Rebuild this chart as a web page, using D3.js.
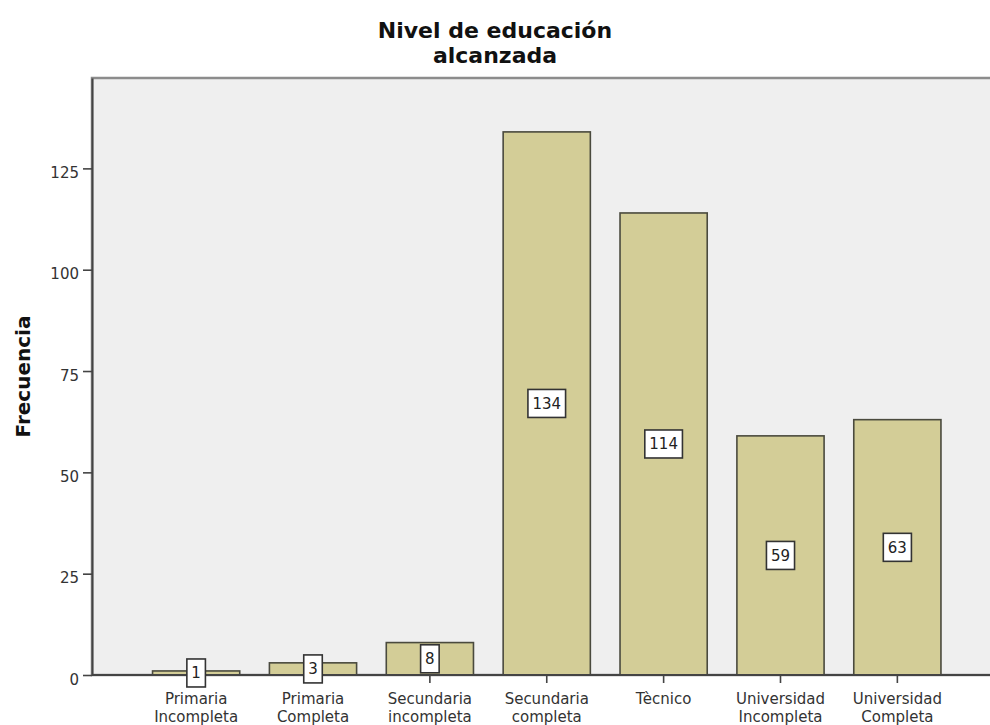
<!DOCTYPE html>
<html>
<head>
<meta charset="utf-8">
<script src="https://cdn.jsdelivr.net/npm/d3@7"></script>
<style>
  body { margin: 0; background: #fff; }
  svg { display: block; }
  text { font-family: "DejaVu Sans", sans-serif; }
</style>
</head>
<body>
<svg id="chart" width="990" height="725"></svg>
<script>
// Chart data
const titleLines = ["Nivel de educación", "alcanzada"];
const yLabel = "Frecuencia";
const categories = [
  "Primaria\nIncompleta",
  "Primaria\nCompleta",
  "Secundaria\nincompleta",
  "Secundaria\ncompleta",
  "Tècnico",
  "Universidad\nIncompleta",
  "Universidad\nCompleta"
];
const frequencies = [1, 3, 8, 134, 114, 59, 63];
const yTicks = [0, 25, 50, 75, 100, 125];

// Layout
const plot = { left: 92, top: 78, right: 992, bottom: 675 };
const svg = d3.select("#chart");

const x = d3.scaleBand()
  .domain(categories)
  .range([137.7, 955.8])
  .paddingInner(0.254)
  .paddingOuter(0.127);

const y = d3.scaleLinear()
  .domain([0, 147.3])
  .range([plot.bottom, plot.top]);

// Plot background and frame
svg.append("rect")
  .attr("x", plot.left).attr("y", plot.top)
  .attr("width", plot.right - plot.left).attr("height", plot.bottom - plot.top)
  .attr("fill", "#efefef")
  .attr("stroke", "#8c8c8c").attr("stroke-width", 2.5);

// Title
svg.append("text")
  .attr("x", 495).attr("text-anchor", "middle")
  .attr("font-size", 22).attr("font-weight", "bold").attr("fill", "#111")
  .selectAll("tspan").data(titleLines).join("tspan")
  .attr("x", 495)
  .attr("y", (d, i) => 38 + i * 25)
  .text(d => d);

// Y-axis label
svg.append("text")
  .attr("transform", `translate(30,${(plot.top + plot.bottom) / 2}) rotate(-90)`)
  .attr("text-anchor", "middle")
  .attr("font-size", 20).attr("font-weight", "bold").attr("fill", "#111")
  .text(yLabel);

// Bars
const data = categories.map((c, i) => ({ cat: c, value: frequencies[i] }));
svg.append("g").selectAll("rect").data(data).join("rect")
  .attr("x", d => x(d.cat))
  .attr("y", d => y(d.value))
  .attr("width", x.bandwidth())
  .attr("height", d => y(0) - y(d.value))
  .attr("fill", "#d3cd97")
  .attr("stroke", "#4a4a3e").attr("stroke-width", 1.6);

// Y axis
const yAxis = svg.append("g")
  .attr("transform", `translate(${plot.left},0)`)
  .call(d3.axisLeft(y).tickValues(yTicks).tickSize(9).tickSizeOuter(0).tickPadding(4));
yAxis.select(".domain").attr("stroke", "#444").attr("stroke-width", 2);
yAxis.selectAll(".tick line").attr("stroke", "#444").attr("stroke-width", 1.6);
yAxis.selectAll(".tick text")
  .attr("font-size", 15).attr("fill", "#333").attr("dy", "0.6em")
  .style("font-family", "\"DejaVu Sans\", sans-serif");

// X axis
const xAxis = svg.append("g")
  .attr("transform", `translate(0,${plot.bottom})`)
  .call(d3.axisBottom(x).tickSize(8).tickSizeOuter(0));
xAxis.select(".domain").remove();
xAxis.selectAll(".tick line").attr("stroke", "#444").attr("stroke-width", 1.6);
xAxis.selectAll(".tick text").each(function (d) {
  const t = d3.select(this).text(null)
    .attr("y", 0).attr("dy", null)
    .attr("font-size", 15).attr("fill", "#333")
    .style("font-family", "\"DejaVu Sans\", sans-serif");
  d.split("\n").forEach((line, i) => {
    t.append("tspan").attr("x", 0).attr("y", 29 + i * 18).text(line);
  });
});
svg.append("line")
  .attr("x1", plot.left).attr("x2", plot.right)
  .attr("y1", plot.bottom).attr("y2", plot.bottom)
  .attr("stroke", "#444").attr("stroke-width", 2);

// Value labels in boxes at mid-height of each bar
const labels = svg.append("g").selectAll("g").data(data).join("g")
  .attr("transform", d => `translate(${x(d.cat) + x.bandwidth() / 2},${(y(d.value) + y(0)) / 2})`);
labels.append("rect").attr("class", "box");
labels.append("text")
  .attr("text-anchor", "middle").attr("dy", "0.36em")
  .attr("font-size", 15).attr("fill", "#222")
  .text(d => d.value);
labels.each(function () {
  const g = d3.select(this);
  const w = g.select("text").node().getComputedTextLength() + 9;
  const h = 28;
  g.select("rect.box")
    .attr("x", -w / 2).attr("y", -h / 2)
    .attr("width", w).attr("height", h)
    .attr("fill", "#fff")
    .attr("stroke", "#333").attr("stroke-width", 1.6);
});
</script>
</body>
</html>
